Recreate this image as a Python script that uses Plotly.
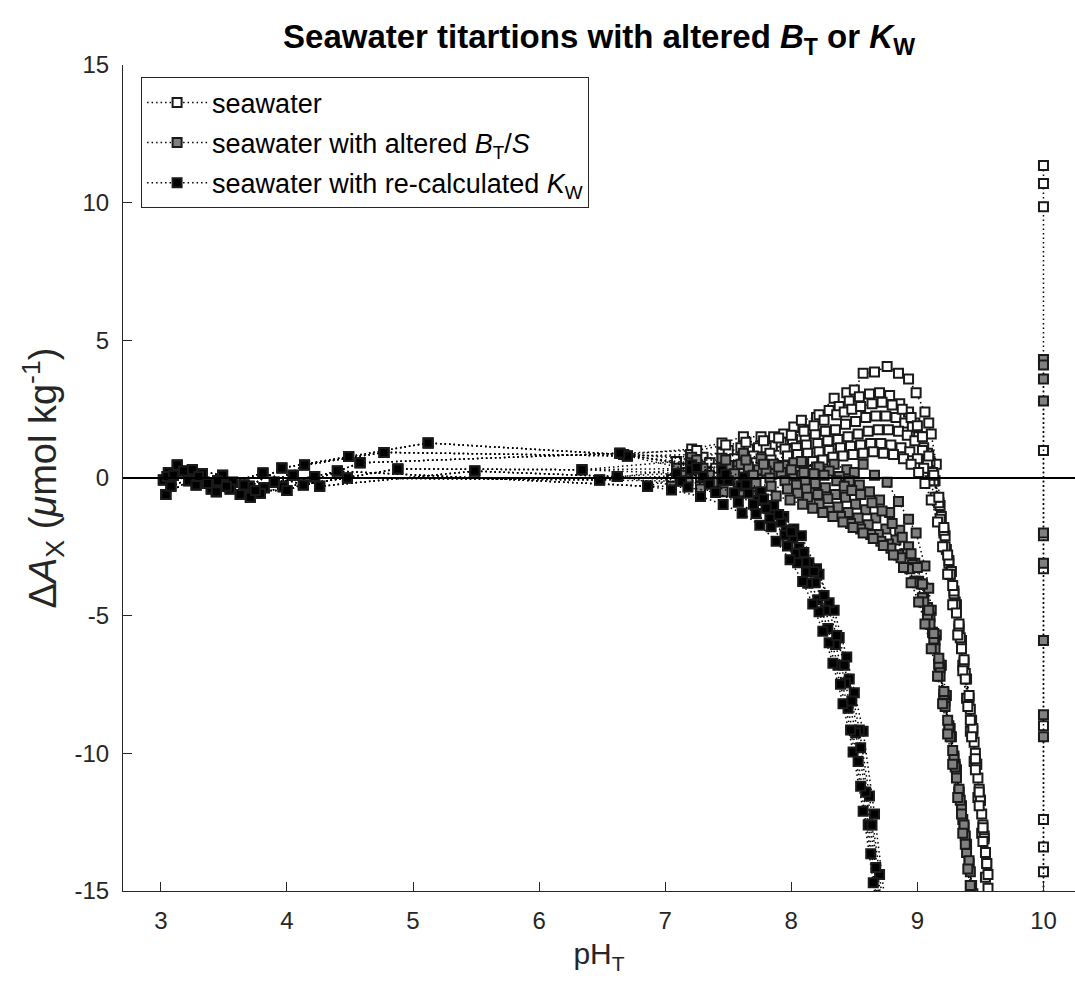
import plotly.graph_objects as go

# ---------------- data ----------------
# acidic / mid part of each titration: identical for all three series
PH_LOW_A = [3.02, 3.25, 3.49, 3.70, 3.96, 4.49, 5.12, 6.67]
DA_LOW_A = [-0.07, 0.30, 0.10, -0.30, 0.36, 0.78, 1.27, 0.85]
PH_LOW_B = [3.04, 3.22, 3.40, 3.63, 3.82, 4.14, 4.77, 6.70]
DA_LOW_B = [-0.60, -0.10, -0.40, -0.60, -0.35, 0.47, 0.93, 0.80]
PH_LOW_C = [3.13, 3.37, 3.57, 3.81, 4.13, 4.88, 6.34]
DA_LOW_C = [0.47, -0.20, -0.15, 0.18, -0.25, 0.33, 0.30]
PH_LOW_D = [3.06, 3.28, 3.45, 3.71, 3.97, 4.48, 6.48]
DA_LOW_D = [0.20, -0.25, -0.10, -0.70, -0.32, 0.00, -0.07]
PH_LOW_E = [3.08, 3.33, 3.55, 3.79, 4.05, 4.26, 5.49, 6.62]
DA_LOW_E = [-0.30, 0.15, -0.40, -0.55, 0.10, -0.30, 0.25, 0.05]
PH_LOW_F = [3.05, 3.18, 3.44, 3.66, 3.90, 4.22, 4.40, 6.86]
DA_LOW_F = [0.05, 0.25, -0.50, -0.25, -0.15, 0.05, 0.25, -0.30]
PH_LOW_G = [3.10, 3.30, 3.52, 3.75, 4.00, 4.58, 6.64]
DA_LOW_G = [0.10, 0.05, -0.30, -0.45, -0.45, 0.55, 0.90]

# alkaline part of each titration (None = below the visible range)
PH_A = [7.21, 7.45, 7.62, 7.76, 7.86, 7.94, 8.02, 8.08, 8.20, 8.34, 8.44, 8.50, 8.57, 8.66, 8.76, 8.85, 8.93, 8.99,
        9.06, 9.09, 9.11, 9.15, 9.19, 9.23, 9.26, 9.30, 9.33, 9.36, 9.39, 9.42, 9.45, 9.48, 9.51, 9.54, 9.58]
WHITE_A = [1.05, 1.27, 1.50, 1.50, 1.50, 1.60, 1.85, 2.10, 2.20, 2.90, 3.10, 3.20, 3.80, 3.85, 4.05, 3.80, 3.60, 3.10,
           2.40, 2.00, 1.60, 0.50, -1.40, -2.60, -3.50, -4.50, -5.50, -6.80, -8.00, -9.20, -10.30, -11.60, -12.90, -14.50, -16.50]
GRAY_A = [0.75, 0.72, 0.90, 0.70, 0.50, 0.45, 0.55, 0.60, 0.40, 0.50, 0.30, 0.20, 0.50, 0.10, -0.15, -0.85, -1.50, -2.00,
          -3.20, -4.00, -4.80, -5.70, -6.80, -7.90, -9.10, -10.40, -11.40, -12.40, -13.60, -14.80, -16.50, None, None, None, None]
BLACK_A = [0.48, 0.28, 0.04, -0.50, -1.00, -1.40, -1.85, -2.10, -3.30, -4.80, -6.50, -7.80, -9.20, -12.20, -16.00] + [None] * 20

PH_B = [7.20, 7.45, 7.60, 7.74, 7.85, 7.96, 8.06, 8.14, 8.22, 8.30, 8.38, 8.46, 8.54, 8.62, 8.70, 8.78, 8.86, 8.93,
        8.98, 9.03, 9.08, 9.12, 9.17, 9.21, 9.25, 9.29, 9.33, 9.37, 9.41, 9.44, 9.47, 9.50, 9.53, 9.56, 9.59]
WHITE_B = [0.85, 0.90, 1.10, 1.10, 1.15, 1.30, 1.50, 1.75, 2.30, 2.45, 2.60, 2.80, 2.95, 3.05, 3.10, 3.00, 2.70, 2.40,
           2.00, 1.50, 0.90, 0.20, -0.90, -2.00, -3.10, -4.20, -5.40, -6.70, -8.00, -9.20, -10.40, -11.70, -13.00, -14.40, -16.20]
GRAY_B = [0.55, 0.35, 0.50, 0.30, 0.15, 0.15, 0.10, 0.15, 0.40, 0.25, 0.05, -0.10, -0.25, -0.50, -0.80, -1.25, -1.90, -2.50,
          -3.10, -3.85, -4.70, -5.60, -6.80, -8.00, -9.10, -10.20, -11.40, -12.70, -14.00, -15.20] + [None] * 5
BLACK_B = [0.30, -0.09, -0.29, -0.82, -1.33, -1.89, -2.52, -3.08, -3.50, -4.53, -5.79, -7.30, -9.15, -11.55, -14.40, -18.00] + [None] * 19

PH_C = [7.09, 7.30, 7.50, 7.66, 7.80, 7.92, 8.01, 8.11, 8.19, 8.27, 8.35, 8.43, 8.51, 8.59, 8.67, 8.75, 8.83, 8.90,
        8.96, 9.01, 9.05, 9.10, 9.14, 9.18, 9.22, 9.27, 9.31, 9.35, 9.39, 9.43, 9.46, 9.49, 9.52, 9.55, 9.59]
WHITE_C = [0.60, 0.75, 1.00, 1.05, 1.10, 1.30, 1.40, 1.45, 1.60, 1.70, 1.75, 1.95, 2.05, 2.20, 2.25, 2.25, 2.20, 2.00,
           1.85, 1.50, 1.10, 0.60, -0.10, -1.00, -2.10, -3.40, -4.60, -5.90, -7.30, -8.80, -10.00, -11.30, -12.60, -14.00, -16.00]
GRAY_C = [0.35, 0.35, 0.45, 0.40, 0.25, 0.20, 0.10, -0.10, -0.20, -0.35, -0.60, -0.70, -0.95, -1.15, -1.45, -1.85, -2.25, -2.75,
          -3.15, -3.75, -4.35, -5.05, -5.90, -6.90, -8.10, -9.40, -10.60, -11.90, -13.30, -14.80, -16.00] + [None] * 4
BLACK_C = [0.17, 0.05, -0.10, -0.55, -1.10, -1.60, -2.18, -3.05, -3.80, -4.80, -6.05, -7.45, -9.25, -11.40, -14.15, -17.50] + [None] * 19

PH_D = [7.13, 7.35, 7.55, 7.70, 7.83, 7.95, 8.04, 8.12, 8.21, 8.29, 8.37, 8.45, 8.53, 8.61, 8.69, 8.77, 8.85, 8.92,
        8.98, 9.04, 9.08, 9.13, 9.17, 9.21, 9.25, 9.29, 9.33, 9.37, 9.41, 9.44, 9.47, 9.50, 9.53, 9.57]
WHITE_D = [0.35, 0.55, 0.70, 0.80, 0.90, 1.05, 1.10, 1.20, 1.25, 1.35, 1.40, 1.50, 1.60, 1.70, 1.75, 1.75, 1.70, 1.55,
           1.35, 1.00, 0.55, -0.10, -0.90, -1.90, -3.00, -4.10, -5.30, -6.60, -7.90, -9.10, -10.40, -11.70, -13.10, -15.20]
GRAY_D = [0.10, 0.10, 0.15, 0.10, 0.00, -0.10, -0.25, -0.40, -0.60, -0.75, -1.05, -1.25, -1.45, -1.70, -2.05, -2.40, -2.80, -3.25,
          -3.75, -4.35, -5.00, -5.85, -6.75, -7.85, -9.00, -10.10, -11.30, -12.60, -13.90, -15.10] + [None] * 4
BLACK_D = [-0.12, -0.23, -0.54, -0.95, -1.47, -2.07, -2.74, -3.41, -4.42, -5.47, -6.80, -8.36, -10.30, -12.60, -15.45] + [None] * 19

PH_E = [7.18, 7.40, 7.58, 7.72, 7.84, 7.97, 8.05, 8.13, 8.22, 8.30, 8.39, 8.47, 8.55, 8.63, 8.71, 8.79, 8.87, 8.94,
        9.00, 9.05, 9.10, 9.14, 9.18, 9.22, 9.26, 9.30, 9.34, 9.38, 9.42, 9.45, 9.48, 9.51, 9.54, 9.58]
WHITE_E = [0.20, 0.35, 0.45, 0.55, 0.65, 0.80, 0.85, 0.90, 0.95, 1.00, 1.10, 1.15, 1.20, 1.25, 1.25, 1.20, 1.10, 0.95,
           0.70, 0.35, -0.10, -0.70, -1.50, -2.50, -3.50, -4.60, -5.80, -7.10, -8.40, -9.60, -10.90, -12.20, -13.60, -15.50]
GRAY_E = [-0.10, -0.15, -0.15, -0.20, -0.30, -0.40, -0.55, -0.70, -0.95, -1.20, -1.40, -1.65, -1.85, -2.05, -2.30, -2.55, -2.90, -3.30,
          -3.80, -4.50, -5.30, -6.20, -7.20, -8.30, -9.40, -10.50, -11.70, -13.00, -14.30, -15.50] + [None] * 4
BLACK_E = [-0.33, -0.53, -0.88, -1.29, -1.77, -2.47, -3.08, -3.82, -4.86, -5.98, -7.49, -9.15, -11.20, -13.65, -16.65] + [None] * 19

PH_F = [7.05, 7.28, 7.46, 7.61, 7.75, 7.88, 7.99, 8.09, 8.17, 8.25, 8.33, 8.41, 8.49, 8.57, 8.65, 8.73, 8.81, 8.89,
        8.95, 9.01, 9.06, 9.11, 9.16, 9.20, 9.24, 9.28, 9.32, 9.36, 9.40, 9.43, 9.46, 9.49, 9.52, 9.56, 9.60]
WHITE_F = [-0.05, 0.00, 0.05, 0.15, 0.25, 0.35, 0.45, 0.55, 0.60, 0.65, 0.75, 0.80, 0.85, 0.90, 0.95, 0.90, 0.85, 0.70,
           0.50, 0.20, -0.20, -0.80, -1.60, -2.50, -3.50, -4.60, -5.70, -7.00, -8.30, -9.40, -10.60, -11.90, -13.20, -14.90, -16.80]
GRAY_F = [-0.30, -0.40, -0.50, -0.50, -0.55, -0.65, -0.80, -0.95, -1.10, -1.25, -1.40, -1.60, -1.80, -2.00, -2.20, -2.45, -2.80, -3.25,
          -3.80, -4.50, -5.30, -6.20, -7.20, -8.20, -9.30, -10.40, -11.60, -12.90, -14.20, -15.40] + [None] * 5
BLACK_F = [-0.44, -0.67, -0.96, -1.28, -1.72, -2.30, -2.97, -3.76, -4.58, -5.57, -6.73, -8.20, -9.95, -12.10, -14.70, -17.90] + [None] * 19

PH_G = [7.25, 7.48, 7.64, 7.78, 7.90, 8.00, 8.10, 8.18, 8.26, 8.36, 8.42, 8.48, 8.55, 8.64, 8.72, 8.80, 8.88, 8.95,
        9.00, 9.04, 9.09, 9.13, 9.17, 9.21, 9.24, 9.28, 9.31, 9.35, 9.38, 9.42, 9.46, 9.49, 9.52, 9.55, 9.59]
WHITE_G = [1.00, 1.20, 1.30, 1.35, 1.45, 1.55, 1.70, 1.90, 2.10, 2.30, 2.40, 2.50, 2.60, 2.70, 2.75, 2.65, 2.50, 2.20,
           1.90, 1.50, 0.80, 0.10, -0.70, -1.80, -2.80, -3.90, -4.90, -6.20, -7.30, -8.80, -10.20, -11.40, -12.70, -14.00, -16.00]
GRAY_G = [0.65, 0.65, 0.65, 0.50, 0.40, 0.30, 0.20, 0.15, 0.10, -0.10, -0.30, -0.45, -0.60, -0.90, -1.20, -1.65, -2.15, -2.75,
          -3.25, -3.85, -4.80, -5.65, -6.55, -7.75, -8.80, -9.90, -10.90, -12.20, -13.30, -14.80, -16.20] + [None] * 4
BLACK_G = [0.38, 0.14, -0.23, -0.76, -1.33, -1.95, -2.71, -3.40, -4.27, -5.72, -6.80, -8.10, -9.80, -12.60, -15.65] + [None] * 20

# end points measured at pH 10
COL_PH = 10.0
COL_WHITE = [11.35, 10.70, 9.85, 1.00, -2.10, -3.30, -9.00, -12.40, -13.40, -14.30, -18.00]
COL_GRAY = [4.30, 4.10, 3.60, 2.80, -2.00, -3.10, -5.90, -8.60, -9.40, -18.00]

PH_LOW = [PH_LOW_A, PH_LOW_B, PH_LOW_C, PH_LOW_D, PH_LOW_E, PH_LOW_F, PH_LOW_G]
DA_LOW = [DA_LOW_A, DA_LOW_B, DA_LOW_C, DA_LOW_D, DA_LOW_E, DA_LOW_F, DA_LOW_G]
PH_HIGH = [PH_A, PH_B, PH_C, PH_D, PH_E, PH_F, PH_G]
WHITE = [WHITE_A, WHITE_B, WHITE_C, WHITE_D, WHITE_E, WHITE_F, WHITE_G]
GRAY = [GRAY_A, GRAY_B, GRAY_C, GRAY_D, GRAY_E, GRAY_F, GRAY_G]
BLACK = [BLACK_A, BLACK_B, BLACK_C, BLACK_D, BLACK_E, BLACK_F, BLACK_G]

SERIES_NAMES = ["seawater",
                "seawater with altered <i>B</i><sub>T</sub>/<i>S</i>",
                "seawater with re-calculated <i>K</i><sub>W</sub>"]
X_TICKS = [3, 4, 5, 6, 7, 8, 9, 10]
Y_TICKS = [-15, -10, -5, 0, 5, 10, 15]
Y_TICKTEXT = ["-15", "-10", "-5", "0", "5", "10", "15"]

# ---------------- figure ----------------
FONT = "Liberation Sans, Arial, Helvetica, sans-serif"
AX = "#262626"
EDGE = "#1a1a1a"


def assemble(high):
    xs, ys = [], []
    for pl, dl, ph, hv in zip(PH_LOW, DA_LOW, PH_HIGH, high):
        xs += pl + ph + [None]
        ys += dl + hv + [None]
    return xs, ys


def style(fill):
    return dict(mode="lines+markers",
                line=dict(color="black", width=1.5, dash="1.5px,3px"),
                marker=dict(symbol="square", size=9, color=fill, line=dict(color=EDGE, width=2)),
                cliponaxis=True)


fig = go.Figure()
for name, high, fill, col in [(SERIES_NAMES[0], WHITE, "white", COL_WHITE),
                              (SERIES_NAMES[1], GRAY, "#808080", COL_GRAY),
                              (SERIES_NAMES[2], BLACK, "black", None)]:
    xs, ys = assemble(high)
    fig.add_trace(go.Scatter(x=xs, y=ys, name=name, legendgroup=name, **style(fill)))
    if col is not None:
        fig.add_trace(go.Scatter(x=[COL_PH] * len(col), y=col, name=name, legendgroup=name,
                                 showlegend=False, **style(fill)))

fig.add_shape(type="line", xref="paper", x0=0, x1=1, yref="y", y0=0, y1=0,
              line=dict(color="black", width=2), layer="above")

axis_common = dict(showline=True, linecolor=AX, linewidth=1, ticks="inside", ticklen=9,
                   tickwidth=1, tickcolor=AX, showgrid=False, zeroline=False,
                   tickfont=dict(family=FONT, size=24, color=AX), ticklabelstandoff=8)

fig.update_layout(
    width=1075, height=984,
    margin=dict(l=123, r=0, t=65, b=93),
    paper_bgcolor="white", plot_bgcolor="white",
    font=dict(family=FONT, color=AX),
    title=dict(text="<b>Seawater titartions with altered <i>B</i><sub>T</sub> or <i>K</i><sub>W</sub></b>",
               x=0.5, xref="paper", xanchor="center", y=0.963, yref="container", yanchor="middle",
               font=dict(family=FONT, size=33, color="black")),
    xaxis=dict(range=[2.7, 10.25], tickvals=X_TICKS,
               title=dict(text="pH<sub>T</sub>", font=dict(family=FONT, size=30, color=AX), standoff=10),
               **axis_common),
    yaxis=dict(range=[-15, 15], tickvals=Y_TICKS, ticktext=Y_TICKTEXT,
               title=dict(text="Δ<i>A</i><sub>X</sub> (<i>μ</i>mol kg<sup>-1</sup>)",
                          font=dict(family=FONT, size=38, color=AX), standoff=6),
               **axis_common),
    legend=dict(x=0.019, y=0.985, xanchor="left", yanchor="top", bgcolor="white",
                bordercolor=AX, borderwidth=1, font=dict(family=FONT, size=27, color="black"),
                itemwidth=60, tracegroupgap=2),
    showlegend=True,
)

fig.write_html("out.html")
